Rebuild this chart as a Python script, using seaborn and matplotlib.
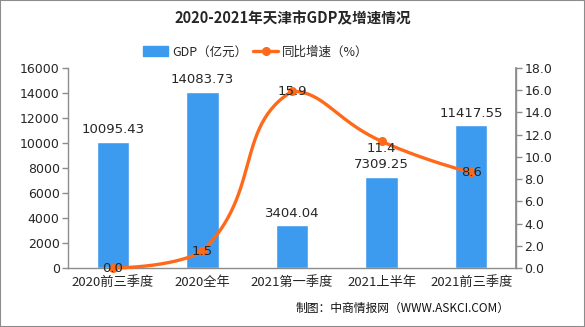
import numpy as np
import pandas as pd
import matplotlib
matplotlib.use("Agg")
import matplotlib.pyplot as plt
import seaborn as sns
from matplotlib.patches import Rectangle
from matplotlib.lines import Line2D
from matplotlib.patches import Patch

categories = ["2020前三季度", "2020全年", "2021第一季度", "2021上半年", "2021前三季度"]
gdp = [10095.43, 14083.73, 3404.04, 7309.25, 11417.55]
growth = [0.0, 1.5, 15.9, 11.4, 8.6]
gdp_labels = ["10095.43", "14083.73", "3404.04", "7309.25", "11417.55"]
growth_labels = ["0.0", "1.5", "15.9", "11.4", "8.6"]
left_ticks = [0, 2000, 4000, 6000, 8000, 10000, 12000, 14000, 16000]
right_ticks = [0, 2, 4, 6, 8, 10, 12, 14, 16, 18]

sns.set_theme(style="white")
plt.rcParams['font.family'] = ['DejaVu Sans', 'Noto Sans CJK SC']
cjk = ['Noto Sans CJK SC', 'DejaVu Sans']

BLUE = "#3D9BEF"
ORANGE = "#FF6A1A"
GRAY = "#8C8C8C"

fig = plt.figure(figsize=(5.85, 3.27), dpi=100)
ax = fig.add_axes([68/585, 59/327, 448/585, 200/327])

df = pd.DataFrame({"cat": categories, "gdp": gdp})
sns.barplot(data=df, x="cat", y="gdp", color=BLUE, width=0.36, ax=ax, saturation=1)
ax.set_ylim(0, 16000)
ax.set_xlim(-0.5, 4.5)
ax.set_yticks(left_ticks)
ax.set_yticklabels([str(t) for t in left_ticks], fontsize=9)
ax.set_xlabel("")
ax.set_ylabel("")
ax.set_xticks(range(len(categories)))
ax.set_xticklabels(categories, fontsize=9.5, family=cjk)
for i, (v, lab) in enumerate(zip(gdp, gdp_labels)):
    ax.annotate(lab, (i, v), xytext=(0, 4), textcoords="offset points",
                ha="center", va="bottom", fontsize=9.5)

for s in ["top"]:
    ax.spines[s].set_visible(False)
for s in ["left", "right", "bottom"]:
    ax.spines[s].set_color(GRAY)
    ax.spines[s].set_linewidth(1)
ax.tick_params(axis="both", direction="out", length=4, color=GRAY, width=1,
               left=True, bottom=True, pad=2)
ax.set_xticks([x - 0.5 for x in range(6)], minor=True)
ax.tick_params(axis="x", which="major", length=0, pad=6)
ax.tick_params(axis="x", which="minor", length=4, color=GRAY, direction="out")

ax2 = ax.twinx()
ax2.set_ylim(0, 18)
ax2.set_yticks(right_ticks)
ax2.set_yticklabels([f"{t:.1f}" for t in right_ticks], fontsize=9)
for s in ["top", "left", "bottom"]:
    ax2.spines[s].set_visible(False)
ax2.spines["right"].set_color(GRAY)
ax2.tick_params(axis="y", direction="out", length=4, color=GRAY, width=1, right=True, pad=2)
ax2.grid(False)
ax.grid(False)

# smooth line (bezier smoothing with bbox constraint, in pixel space)
xs = np.arange(len(growth), dtype=float)
sx, sy = 89.6, 200 / 18
P = np.column_stack([xs * sx, np.array(growth) * sy])
lo, hi = P.min(axis=0), P.max(axis=0)
smooth = 0.5
curve = []
n = len(P)
for i in range(n - 1):
    p0, p3 = P[i], P[i + 1]
    if i == 0:
        c1 = p0.copy()
    else:
        v = P[i + 1] - P[i - 1]
        d0 = np.linalg.norm(P[i] - P[i - 1]); d1 = np.linalg.norm(P[i + 1] - P[i])
        c1 = p0 + v * smooth * d1 / (d0 + d1)
    if i + 1 == n - 1:
        c2 = p3.copy()
    else:
        v = P[i + 2] - P[i]
        d0 = np.linalg.norm(P[i + 1] - P[i]); d1 = np.linalg.norm(P[i + 2] - P[i + 1])
        c2 = p3 - v * smooth * d0 / (d0 + d1)
    c1 = np.clip(c1, lo, hi); c2 = np.clip(c2, lo, hi)
    t = np.linspace(0, 1, 60)[:, None]
    seg = (1 - t) ** 3 * p0 + 3 * (1 - t) ** 2 * t * c1 + 3 * (1 - t) * t ** 2 * c2 + t ** 3 * p3
    curve.append(seg)
curve = np.vstack(curve)
cdf = pd.DataFrame({"x": curve[:, 0] / sx, "y": curve[:, 1] / sy})
sns.lineplot(data=cdf, x="x", y="y", sort=False, color=ORANGE, linewidth=2.4, ax=ax2,
             estimator=None, clip_on=False)
ax2.plot(xs, growth, "o", color=ORANGE, markersize=5.5, clip_on=False, zorder=5)
ax2.set_xlabel(""); ax2.set_ylabel("")
offs = [0, 0, 0, -5, 0]
for i, (v, lab) in enumerate(zip(growth, growth_labels)):
    ax2.annotate(lab, (i, v), xytext=(0, offs[i]), textcoords="offset points",
                 ha="center", va="center", fontsize=9.5, zorder=6)

fig.text(0.5, 1 - 18/327, "2020-2021年天津市GDP及增速情况", ha="center", va="center",
         fontsize=10.5, fontweight="bold", family=cjk)

handles = [Patch(facecolor=BLUE, edgecolor=BLUE),
           Line2D([0], [0], color=ORANGE, lw=2.4, marker="o", markersize=5.5)]
fig.legend(handles, ["GDP（亿元）", "同比增速（%）"], loc="center",
           bbox_to_anchor=(256/585, 1 - 52/327), ncol=2, frameon=False,
           prop={"family": cjk, "size": 9}, handlelength=2.0, handleheight=0.9,
           columnspacing=0.5, handletextpad=0.3)

fig.text(510/585, 1 - 308/327, "制图：中商情报网（WWW.ASKCI.COM）", ha="right", va="center",
         fontsize=8.5, family=cjk, color="#111111")

fig.patches.append(Rectangle((0, 0), 1, 1, transform=fig.transFigure, fill=False,
                             edgecolor=GRAY, linewidth=1.5, zorder=10))

fig.savefig("out.png", dpi=100)
